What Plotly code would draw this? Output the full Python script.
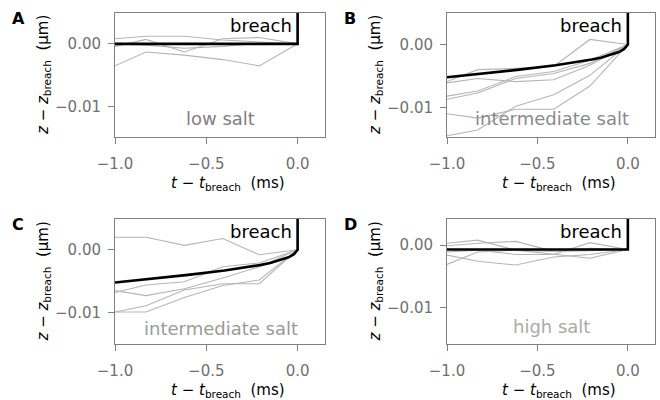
import plotly.graph_objects as go

# time points of tracked traces (ms, relative to breach)
t_pts = [-1.0, -0.83, -0.62, -0.41, -0.21, 0.0]

# Panel A: low salt traces (um)
A_traces = [
    [0.0008, 0.0012, 0.0012, 0.0006, 0.0003, 0.0],
    [-0.0004, 0.0007, -0.0013, 0.0008, 0.0010, 0.0],
    [-0.0035, -0.0013, -0.0018, -0.0025, -0.0035, 0.0],
    [0.0000, -0.0002, -0.0007, -0.0004, 0.0001, 0.0],
]
# Panel B: intermediate salt traces
B_traces = [
    [-0.0059, -0.0040, -0.0038, -0.0035, 0.0008, 0.0],
    [-0.0061, -0.0054, -0.0059, -0.0056, -0.0033, 0.0],
    [-0.0082, -0.0074, -0.0051, -0.0043, -0.0025, 0.0],
    [-0.0087, -0.0077, -0.0054, -0.0046, -0.0030, 0.0],
    [-0.0110, -0.0117, -0.0103, -0.0103, -0.0066, 0.0],
    [-0.0145, -0.0136, -0.0098, -0.0080, -0.0049, 0.0],
]
# Panel C: intermediate salt traces
C_traces = [
    [0.0020, 0.0020, 0.0007, 0.0018, -0.0008, 0.0],
    [-0.0068, -0.0056, -0.0051, -0.0027, -0.0021, 0.0],
    [-0.0065, -0.0073, -0.0062, -0.0045, -0.0027, 0.0],
    [-0.0099, -0.0089, -0.0064, -0.0054, -0.0054, 0.0],
    [-0.0099, -0.0099, -0.0076, -0.0057, -0.0048, 0.0],
]
# Panel D: high salt traces
D_traces = [
    [0.0003, 0.0008, -0.0008, -0.0010, -0.0005, -0.0007],
    [-0.0001, 0.0003, 0.0006, -0.0010, -0.0009, -0.0007],
    [-0.0011, -0.0008, -0.0015, -0.0015, 0.0004, -0.0007],
    [-0.0016, -0.0026, -0.0032, -0.0019, -0.0015, -0.0007],
    [-0.0031, -0.0011, -0.0008, -0.0015, -0.0021, -0.0007],
]

# breach model curves (black)
flat_t = [-1.0, 0.0, 0.0]
A_flat_z = [0.0, 0.0, 0.005]
D_flat_z = [-0.0007, -0.0007, 0.0042]
curve_t = [-1.0, -0.8, -0.6, -0.4, -0.3, -0.2, -0.15, -0.1, -0.05, -0.02, 0.0, 0.0]
curve_z = [-0.0052, -0.00465, -0.0040, -0.0033, -0.0029, -0.0024, -0.0021,
           -0.0017, -0.0012, -0.0007, 0.0, 0.005]

panel_labels = ["A", "B", "C", "D"]
conditions = ["low salt", "intermediate salt", "intermediate salt", "high salt"]
cond_colors = ["#808080", "#8a8a8a", "#9a9a9a", "#aaaaaa"]
y_ranges = [[-0.0148, 0.0049], [-0.0147, 0.005], [-0.015, 0.0049], [-0.0159, 0.0042]]
x_range = [-1.0, 0.15]
x_ticks = [-1.0, -0.5, 0.0]
x_ticklabels = ["\u22121.0", "\u22120.5", "0.0"]
y_ticks = [0.0, -0.01]
y_ticklabels = ["0.00", "\u22120.01"]
x_title = "<i>t</i> \u2212 <i>t</i><sub>breach</sub>  (ms)"
y_title = "<i>z</i> \u2212 <i>z</i><sub>breach</sub>  (\u03bcm)"

W, H = 660, 400
# pixel boxes (left, right, top, bottom)
boxes = [(115, 325, 13, 137), (447, 655, 13, 137), (115, 325, 219, 344), (447, 655, 219, 344)]
cond_ypos = [0.153, 0.153, 0.128, 0.144]

fig = go.Figure()
all_traces = [A_traces, B_traces, C_traces, D_traces]
black = [(flat_t, A_flat_z), (curve_t, curve_z), (curve_t, curve_z), (flat_t, D_flat_z)]

FONT = "DejaVu Sans"
layout = dict(width=W, height=H, margin=dict(l=0, r=0, t=0, b=0, autoexpand=False),
              plot_bgcolor="white", paper_bgcolor="white", showlegend=False,
              font=dict(family=FONT))
annotations = []
for i in range(4):
    xa = "x" if i == 0 else f"x{i+1}"
    ya = "y" if i == 0 else f"y{i+1}"
    for tr in all_traces[i]:
        fig.add_trace(go.Scatter(x=t_pts, y=tr, mode="lines", xaxis=xa, yaxis=ya,
                                 line=dict(color="#b5b5b5", width=1.1), hoverinfo="skip"))
    bt, bz = black[i]
    fig.add_trace(go.Scatter(x=bt, y=bz, mode="lines", xaxis=xa, yaxis=ya,
                             line=dict(color="black", width=2.6), hoverinfo="skip"))
    l, r, t, b = boxes[i]
    axcommon = dict(showline=True, mirror=True, linecolor="#808080", linewidth=1,
                    showgrid=False, zeroline=False, ticks="outside", ticklen=6,
                    automargin=False,
                    tickcolor="#808080", tickfont=dict(size=15, color="#707070", family=FONT))
    layout["xaxis" if i == 0 else f"xaxis{i+1}"] = dict(
        domain=[l / W, r / W], range=x_range, tickvals=x_ticks, ticktext=x_ticklabels,
        anchor=ya, ticklabelstandoff=7, **axcommon)
    layout["yaxis" if i == 0 else f"yaxis{i+1}"] = dict(
        domain=[1 - b / H, 1 - t / H], range=y_ranges[i], tickvals=y_ticks,
        ticktext=y_ticklabels, anchor=xa, ticklabelstandoff=4, **axcommon)
    yd = ya + " domain"
    annotations.append(dict(text="breach", x=-0.02, xref=xa, y=1, yref=yd,
                            xanchor="right", yanchor="top", showarrow=False,
                            font=dict(size=18, color="black", family=FONT)))
    annotations.append(dict(text=conditions[i], x=-0.42, xref=xa, y=cond_ypos[i], yref=yd,
                            xanchor="center", yanchor="middle", showarrow=False,
                            font=dict(size=18, color=cond_colors[i], family=FONT)))
    # panel letter
    annotations.append(dict(text=f"<b>{panel_labels[i]}</b>", x=(l - 97) / W, y=1 - (t + 5) / H,
                            xref="paper", yref="paper", xanchor="center", yanchor="middle",
                            showarrow=False, font=dict(size=16, color="black", family=FONT)))
    # x title
    annotations.append(dict(text=x_title, x=((l + r) / 2 + 8) / W, y=1 - (b + 46) / H,
                            xref="paper", yref="paper", xanchor="center", yanchor="middle",
                            showarrow=False, font=dict(size=15, color="black", family=FONT)))
    # y title
    annotations.append(dict(text=y_title, x=(l - 72) / W, y=1 - ((t + b) / 2) / H,
                            xref="paper", yref="paper", xanchor="center", yanchor="middle",
                            textangle=-90, showarrow=False,
                            font=dict(size=15, color="black", family=FONT)))
layout["annotations"] = annotations
fig.update_layout(**layout)
fig.write_html("out.html")
